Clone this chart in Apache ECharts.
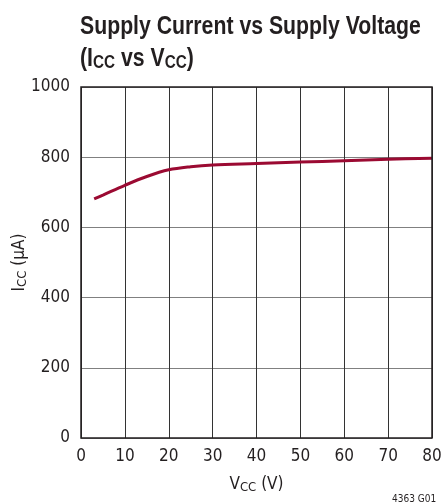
<!DOCTYPE html>
<html><head><meta charset="utf-8">
<script src="https://cdn.jsdelivr.net/npm/echarts@6/dist/echarts.min.js"></script>
<style>html,body{margin:0;padding:0;background:#fff}#c{width:442px;height:504px}</style>
</head><body><div id="c"></div>
<script>
var vcc = [3, 5, 10, 15, 20, 25, 30, 40, 50, 60, 70, 80];
var icc = [681, 692, 720, 745, 764, 773, 778, 782, 786, 790, 794, 797];
var xTicks = [0, 10, 20, 30, 40, 50, 60, 70, 80];
var yTicks = [0, 200, 400, 600, 800, 1000];

var F = '"DejaVu Sans Condensed","Liberation Sans",sans-serif';
var TF = '"Liberation Sans",Arial,sans-serif';
var C = '#231f20';
var chart = echarts.init(document.getElementById('c'), null, {renderer: 'canvas'});
chart.setOption({
  animation: false,
  backgroundColor: '#fff',
  grid: {left: 81, right: 10, top: 87, bottom: 66, containLabel: false, outerBoundsMode: 'none'},
  xAxis: {
    type: 'value', min: 0, max: 80, interval: 10,
    axisLine: {show: false},
    axisTick: {show: false},
    axisLabel: {fontFamily: F, fontSize: 17, color: C, margin: 10,
      formatter: function (v) { return xTicks.indexOf(v) >= 0 ? String(v) : ''; }},
    splitLine: {show: true, lineStyle: {color: '#333', width: 1}},
    name: '{t|V}{s|CC}{t| (V)}', nameLocation: 'middle', nameGap: 37, nameMoveOverlap: false,
    nameTextStyle: {rich: {
      t: {fontFamily: F, fontSize: 17, color: C, lineHeight: 20},
      s: {fontFamily: F, fontSize: 13, color: C, lineHeight: 20, padding: [6, 0, 0, 0]}
    }}
  },
  yAxis: {
    type: 'value', min: 0, max: 1000, interval: 200,
    axisLine: {show: false},
    axisTick: {show: false},
    axisLabel: {fontFamily: F, fontSize: 17, color: C, margin: 11,
      formatter: function (v) { return yTicks.indexOf(v) >= 0 ? String(v) : ''; }},
    splitLine: {show: true, lineStyle: {color: '#808080', width: 1}},
    name: '{t|I}{s|CC}{t| (µA)}', nameLocation: 'middle', nameGap: 51, nameRotate: 90, nameMoveOverlap: false,
    nameTextStyle: {rich: {
      t: {fontFamily: F, fontSize: 17, color: C, lineHeight: 20},
      s: {fontFamily: F, fontSize: 13, color: C, lineHeight: 20, padding: [6, 0, 0, 0]}
    }}
  },
  graphic: [
    {type: 'text', x: 80, y: 11, scaleX: 0.85, z: 100,
      style: {
        text: '{t|Supply Current vs Supply Voltage}\n{t|(I}{s|CC}{t| vs V}{s|CC}{t|)}',
        rich: {
          t: {fontFamily: TF, fontWeight: 'bold', fontSize: 25, fill: C, lineHeight: 32},
          s: {fontFamily: TF, fontWeight: 'bold', fontSize: 18, fill: C, lineHeight: 32, padding: [9, 0, 0, 0]}
        }
      }},
    {type: 'rect', shape: {x: 81, y: 87, width: 351, height: 351}, z: 100,
      style: {fill: 'none', stroke: C, lineWidth: 1.5}},
    {type: 'text', x: 392, y: 494, z: 100,
      style: {text: '4363 G01', font: '10px ' + F, fill: C}}
  ],
  series: [{
    type: 'line', smooth: 0.35, symbol: 'none',
    data: vcc.map(function (v, i) { return [v, icc[i]]; }),
    lineStyle: {color: '#9b0a32', width: 3}
  }]
});
</script></body></html>
